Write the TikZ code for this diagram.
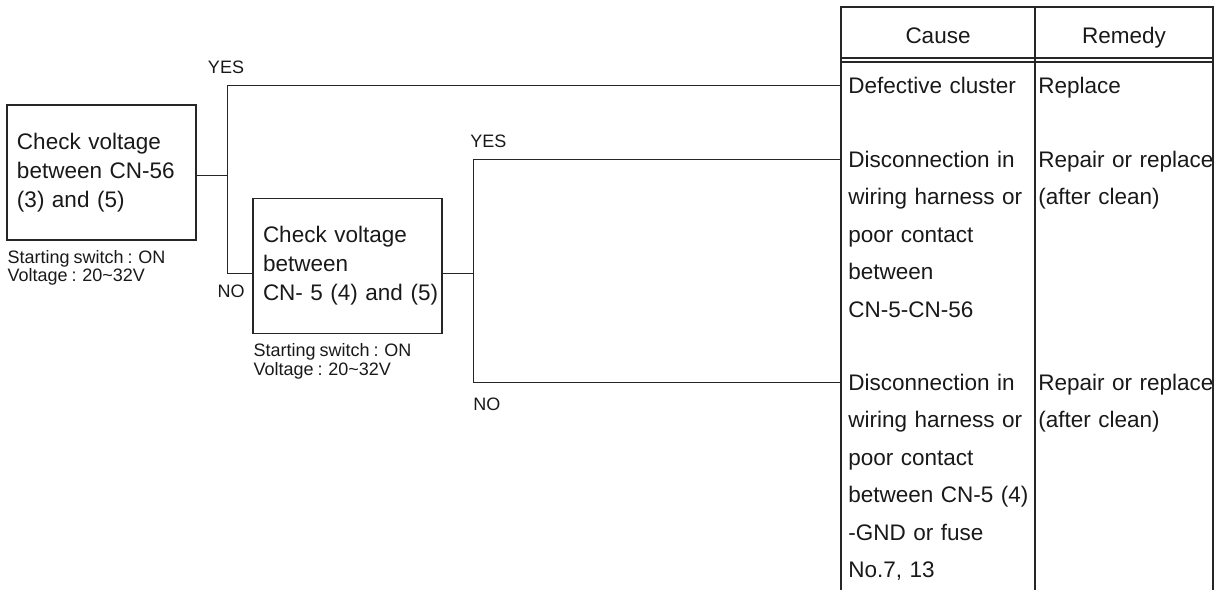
\documentclass[tikz,border=0pt]{standalone}
\usepackage{fontspec}
\setmainfont{Liberation Sans}[WordSpace=0.8]
\usetikzlibrary{positioning, calc}

\begin{document}
\begin{tikzpicture}[
    x=0.5pt,
    y=-0.5pt,
    every node/.style={
        text=black!90,
    },
    check/.style={
        draw=black!85,
        line width=0.75pt,
        minimum width=94.5pt,
        minimum height=67.5pt,
        text width=84.5pt,
        inner xsep=5pt,
        align=left,
        font=\fontsize{11.25}{14.5}\selectfont,
    },
    caption/.style={
        anchor=north west,
        inner sep=0pt,
        align=left,
        font=\fontsize{9}{9.25}\selectfont,
    },
    answer/.style={
        inner sep=0pt,
        font=\fontsize{9}{12}\selectfont,
    },
    head/.style={
        anchor=base,
        inner sep=0pt,
        font=\fontsize{11.25}{15}\selectfont,
    },
    cause/.style={
        anchor=base west,
        text width=96pt,
        inner xsep=3.5pt,
        inner ysep=0pt,
        align=left,
        font=\fontsize{11.25}{18.75}\selectfont,
    },
    remedy/.style={
        cause,
        inner xsep=1.5pt,
        text width=92pt,
    },
    rule/.style={
        draw=black!85,
        line width=0.75pt,
    },
    link/.style={
        draw=black!85,
        line width=0.5pt,
    },
]

    \useasboundingbox (0,0) rectangle (1218,590);

    \node[check] (box1) at (101.5,172.5) {Check voltage\\between CN-56\\(3) and (5)};
    \node[caption] (cap1) at ([shift={(1,9)}]box1.south west) {Starting switch : ON\\Voltage : 20\textasciitilde 32V};
    \node[check] (box2) at (347.5,266) {Check voltage\\between\\\mbox{CN- 5 (4) and (5)}};
    \node[caption] (cap2) at ([shift={(1,9)}]box2.south west) {Starting switch : ON\\Voltage : 20\textasciitilde 32V};

    \node[head] (cause) at (938,43) {Cause};
    \node[head] (remedy) at (1124,43) {Remedy};
    \node[cause] (c1) at (841,93) {Defective cluster};
    \node[remedy] (r1) at (1035,93) {Replace};
    \node[cause] (c2) at (841,167) {Disconnection in\\wiring harness or\\poor contact\\between\\CN-5-CN-56};
    \node[remedy] (r2) at (1035,167) {Repair or replace\\(after clean)};
    \node[cause] (c3) at (841,390) {Disconnection in\\wiring harness or\\poor contact\\between CN-5 (4)\\-GND or fuse\\No.7, 13};
    \node[remedy] (r3) at (1035,390) {Repair or replace\\(after clean)};

    \draw[rule] (841,590) -- (841,7) -- (1213,7) -- (1213,590);
    \draw[rule] (1035,7) -- (1035,590);
    \draw[rule] (841,58) -- (1213,58) (841,62) -- (1213,62);

    \coordinate (fork1) at ($(box1.east)+(31,2.5)$);
    \coordinate (fork2) at ($(box2.east)+(31,7)$);

    \draw[link] (box1.east |- fork1) -- (fork1);
    \draw[link] (fork1) |- ($(c1.mid west)+(0,-2)$);
    \draw[link] (fork1) |- ($(box2.west)+(0,7)$);
    \draw[link] (box2.east |- fork2) -- (fork2);
    \draw[link] (fork2) |- ($(c2.mid west)+(0,-2)$);
    \draw[link] (fork2) |- ($(c3.mid west)+(0,-2)$);

    \node[answer, anchor=base] (yes1) at (226,73) {YES};
    \node[answer, anchor=base] (no1) at (231,297) {NO};
    \node[answer, anchor=base west] (yes2) at (470,147) {YES};
    \node[answer, anchor=base west] (no2) at (473,410) {NO};

\end{tikzpicture}
\end{document}
